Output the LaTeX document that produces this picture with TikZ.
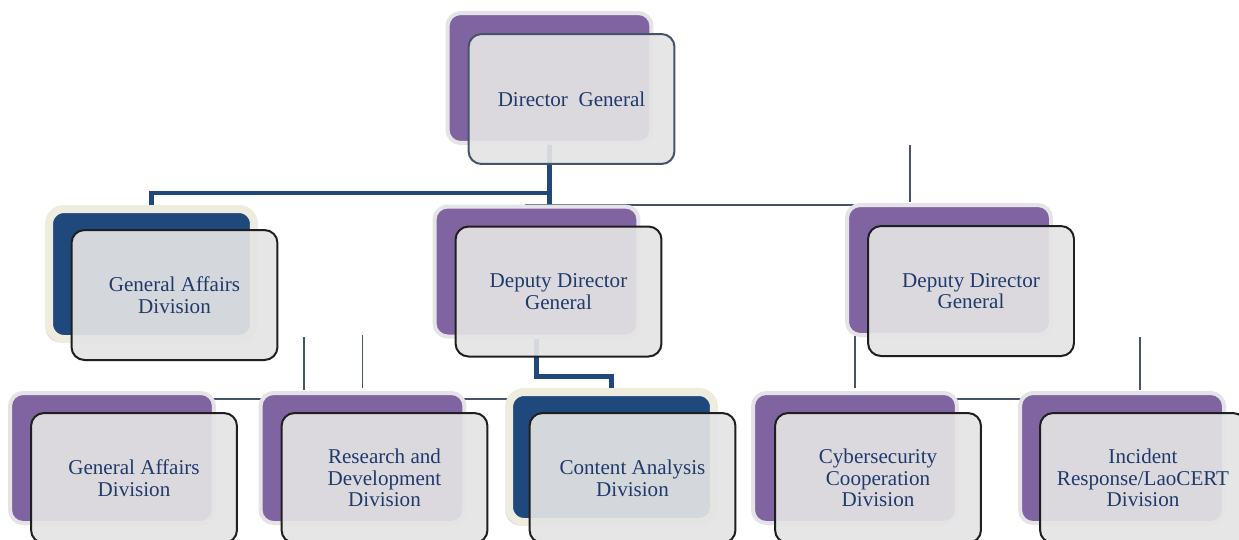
\documentclass[tikz,border=0pt]{standalone}
\usepackage{fontspec}
\setmainfont{Liberation Serif}
\usepackage{tikz}
\usetikzlibrary{positioning,shadows}
\pgfdeclarelayer{background}
\pgfsetlayers{background,main}
\definecolor{boxpurple}{HTML}{8064A2}
\definecolor{boxblue}{HTML}{1F497D}
\definecolor{halogrey}{HTML}{E4E4E6}
\definecolor{halocream}{HTML}{EEEBDF}
\definecolor{cardgrey}{HTML}{E4E4E4}
\definecolor{inkblue}{HTML}{1F3A6B}
\definecolor{linegrey}{HTML}{44546A}
\tikzstyle{backbox} = [rectangle, rounded corners=0.26cm, minimum width=4.08cm, minimum height=2.6cm, fill=boxpurple, draw=halogrey, line width=0.08cm]
\tikzstyle{bluebox} = [rectangle, rounded corners=0.3cm, minimum width=4.1cm, minimum height=2.6cm, fill=boxblue, draw=halocream, line width=0.16cm, drop shadow={shadow xshift=-2pt, shadow yshift=-2pt, opacity=0.3}]
\tikzstyle{class} = [rectangle, rounded corners=0.26cm, minimum width=4.12cm, minimum height=2.6cm, fill=cardgrey, fill opacity=0.92, text opacity=1, draw=black!88, line width=0.04cm, text centered, align=center, text=inkblue, font=\fontsize{12}{12.3}\selectfont]
\tikzstyle{link} = [draw=boxblue, line width=0.09cm]
\tikzstyle{stem} = [draw=linegrey, line width=0.03cm]

\begin{document}
\begin{tikzpicture}[x=0.02cm, y=-0.02cm]
\useasboundingbox (0,0) rectangle (1239,539);
\clip (0,0) rectangle (1239,539);

\node (dgb) [backbox] at (549.5,78) {};
\node (dg) [class, draw=linegrey] at ([shift={(22,21)}]dgb.center) {Director \ General};

\node (gab) [bluebox] at (151.5,274) {};
\node (ga) [class] at ([shift={(23,21)}]gab.center) {General Affairs\\Division};

\node (ddb1) [backbox] at (536.5,271.5) {};
\node (dd1) [class] at ([shift={(22,20)}]ddb1.center) {Deputy Director\\General};

\node (ddb2) [backbox] at (949,270) {};
\node (dd2) [class] at ([shift={(22,21)}]ddb2.center) {Deputy Director\\General};

\node (gdb) [backbox] at (112,458) {};
\node (gd) [class] at ([shift={(22,20)}]gdb.center) {General Affairs\\Division};

\node (rdb) [backbox] at (362.5,458) {};
\node (rd) [class] at ([shift={(22,20)}]rdb.center) {Research and\\Development\\Division};

\node (cab) [bluebox] at (611.5,457) {};
\node (ca) [class] at ([shift={(21,21)}]cab.center) {Content Analysis\\Division};

\node (cyb) [backbox] at (855,458) {};
\node (cy) [class] at ([shift={(23,20)}]cyb.center) {Cybersecurity\\Cooperation\\Division};

\node (irb) [backbox] at (1122,458) {};
\node (ir) [class] at ([shift={(21,20)}]irb.center) {Incident\\Response/LaoCERT\\Division};

\coordinate (topw) at (525,205);
\coordinate (tope) at (870,205);
\coordinate (ticka) at (910,145);
\coordinate (tickb) at (910,202);
\coordinate (roww) at (205,399);
\coordinate (rowe) at (522,399);
\coordinate (rightw) at (945,399);
\coordinate (righte) at (1030,399);
\coordinate (stubaa) at (304,337);
\coordinate (stubab) at (304,390);
\coordinate (stubba) at (1140,337);
\coordinate (stubbb) at (1140,390);
\coordinate (dgj) at ([shift={(0,48)}]dgb.south);

\begin{pgfonlayer}{background}
\fill[white] (0,0) rectangle (1239,539);
\draw[stem] (topw) -- (tope);
\draw[stem] (ticka) -- (tickb);
\draw[stem] (roww) -- (rowe);
\draw[stem] (rightw) -- (righte);
\draw[stem] (stubaa) -- (stubab);
\draw[stem] (stubba) -- (stubbb);
\draw[stem] (rdb.north) ++(0,-3) -- ++(0,-53);
\draw[stem] (cyb.north) ++(0,-3) -- ++(0,-53);
\draw[link] (dgb.south) -- (dgb.south |- topw);
\draw[link] (dgj) -| (gab.north);
\draw[link] (ddb1.south) -- ++(0,38) -| (cab.north);
\end{pgfonlayer}
\end{tikzpicture}
\end{document}
